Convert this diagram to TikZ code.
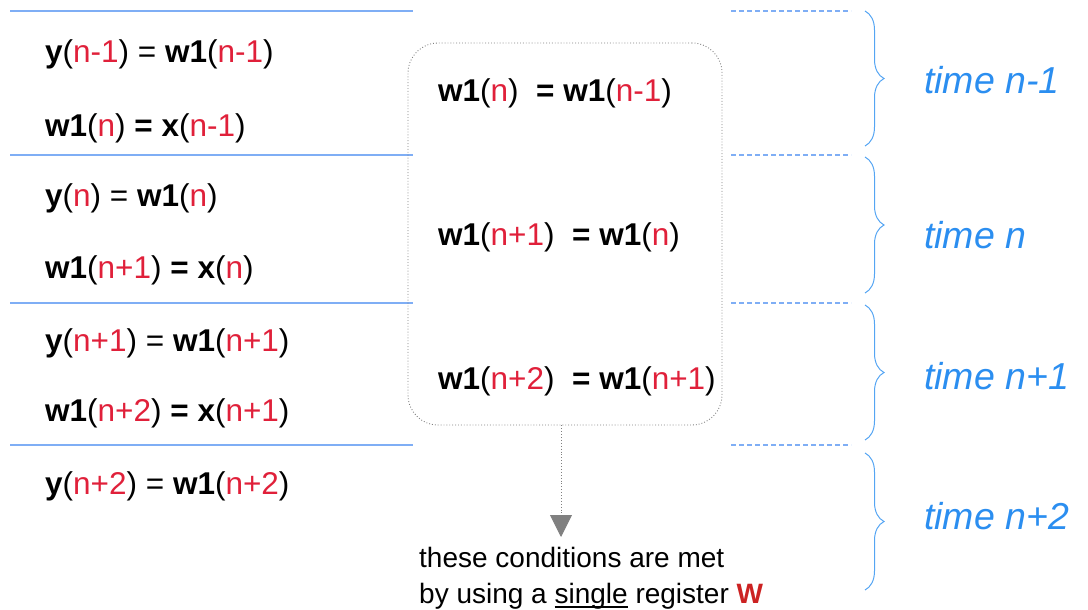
\documentclass[tikz,border=0pt]{standalone}
\usepackage{fontspec}
\setmainfont{Liberation Sans}
\usetikzlibrary{decorations.pathreplacing,arrows.meta}
\definecolor{nred}{HTML}{E0203A}
\definecolor{lblue}{HTML}{7FAEF5}
\definecolor{tblue}{HTML}{2B8EF0}
\definecolor{wred}{HTML}{CC2222}
\newcommand\rn[1]{\textcolor{nred}{#1}}
\newcommand\myul[1]{\setbox0\hbox{#1}\rlap{\rule[-4.5pt]{\wd0}{1.3pt}}\box0\relax}
\tikzset{
  eq/.style={anchor=base west, inner sep=0pt, font=\fontsize{31.5}{38}\selectfont},
  ctext/.style={anchor=base west, inner sep=0pt, font=\fontsize{28}{34}\selectfont},
  tlabel/.style={anchor=base west, inner sep=0pt, text=tblue, font=\fontsize{37.5}{42}\selectfont\itshape},
  solidsep/.style={draw=lblue, line width=1.1pt},
  dashsep/.style={draw=lblue, line width=1.1pt, dash pattern=on 5pt off 3pt},
  timebrace/.style={draw=tblue!80, line width=1pt, decorate, decoration={brace, amplitude=19pt}},
  regbox/.style={draw=gray, dotted, line width=0.9pt, rounded corners=30pt, minimum width=314pt, minimum height=382pt, inner sep=0pt},
  flowarrow/.style={draw=gray, dotted, line width=0.9pt, -{Triangle[width=22pt,length=22pt,fill=gray]}},
}
\begin{document}
\begin{tikzpicture}[x=1pt,y=-1pt]
\useasboundingbox (0,0) rectangle (1088,610);
% separators
\foreach \yy/\nm in {11/a,155/b,303/c,445/d}{
  \coordinate (sl\nm) at (10,\yy); \coordinate (sr\nm) at (413,\yy);
  \coordinate (dl\nm) at (731,\yy); \coordinate (dr\nm) at (851,\yy);
  \draw[solidsep] (sl\nm) -- (sr\nm);
  \draw[dashsep] (dl\nm) -- (dr\nm);
}
% left equations
\node[eq] (e1) at (45,63) {\textbf{y}(\rn{n-1}) = \textbf{w1}(\rn{n-1})};
\node[eq] (e2) at (45,136) {\textbf{w1}(\rn{n}) \textbf{= x}(\rn{n-1})};
\node[eq] (e3) at (45,206) {\textbf{y}(\rn{n}) = \textbf{w1}(\rn{n})};
\node[eq] (e4) at (45,278) {\textbf{w1}(\rn{n+1}) \textbf{= x}(\rn{n})};
\node[eq] (e5) at (45,351) {\textbf{y}(\rn{n+1}) = \textbf{w1}(\rn{n+1})};
\node[eq] (e6) at (45,421) {\textbf{w1}(\rn{n+2}) \textbf{= x}(\rn{n+1})};
\node[eq] (e7) at (45,494) {\textbf{y}(\rn{n+2}) = \textbf{w1}(\rn{n+2})};
% box
\node[regbox] (box) at (565,234) {};
\node[eq] (b1) at (438,102) {\textbf{w1}(\rn{n})\ \ \textbf{= w1}(\rn{n-1})};
\node[eq] (b2) at (438,245) {\textbf{w1}(\rn{n+1})\ \ \textbf{= w1}(\rn{n})};
\node[eq] (b3) at (438,389) {\textbf{w1}(\rn{n+2})\ \ \textbf{= w1}(\rn{n+1})};
% arrow and conclusion
\coordinate (tip) at (561,537);
\draw[flowarrow] (box.south -| tip) -- (tip);
\node[ctext] (c1) at (419,567) {these conditions are met};
\node[ctext] (c2) at (419,603) {by using a \myul{single} register \textcolor{wred}{\textbf{W}}};
% braces and time labels
\draw[timebrace] (865,11) -- (865,146);
\draw[timebrace] (865,157) -- (865,293);
\draw[timebrace] (865,305) -- (865,440);
\draw[timebrace] (865,453) -- (865,590);
\node[tlabel] (t1) at (924,93) {time n-1};
\node[tlabel] (t2) at (924,248) {time n};
\node[tlabel] (t3) at (924,389) {time n+1};
\node[tlabel] (t4) at (924,529) {time n+2};
\end{tikzpicture}
\end{document}
